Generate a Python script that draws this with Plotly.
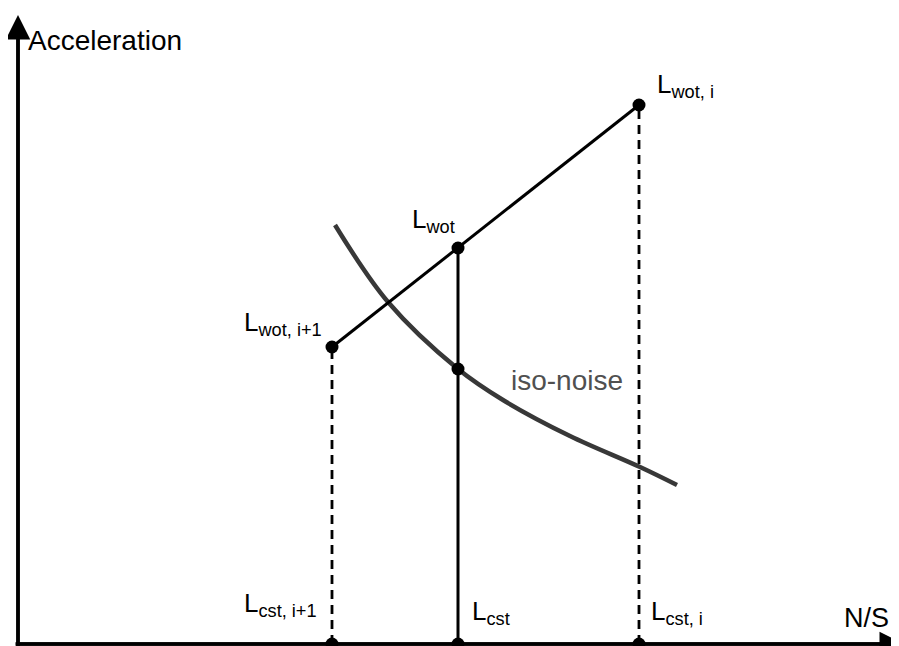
import plotly.graph_objects as go

# operating points (arbitrary units, origin at the axis corner)
ns_points = [314, 440, 621]          # N/S of L_cst,i+1 / L_cst / L_cst,i
acc_wot = [297, 396, 539]            # acceleration on the WOT line
acc_cst = 275                        # L_cst acceleration (on iso-noise curve)

# iso-noise curve
iso_ns = [317, 370, 440, 485, 552, 622, 659]
iso_acc = [419, 342, 275, 244, 208, 177, 159]

wot_labels = ['L<sub>wot, i+1</sub>', 'L<sub>wot</sub>', 'L<sub>wot, i</sub>']
cst_labels = ['L<sub>cst, i+1</sub>', 'L<sub>cst</sub>', 'L<sub>cst, i</sub>']

FONT = 'Liberation Sans, Arial, sans-serif'

fig = go.Figure()

# dashed drops from the outer WOT points
for i in (0, 2):
    fig.add_trace(go.Scatter(
        x=[ns_points[i], ns_points[i]], y=[0, acc_wot[i]],
        mode='lines', line=dict(color='black', width=2.8, dash='9px,6px'),
        hoverinfo='skip'
    ))

# solid drop at the chosen point
fig.add_trace(go.Scatter(
    x=[ns_points[1], ns_points[1]], y=[0, acc_wot[1]],
    mode='lines', line=dict(color='black', width=3), hoverinfo='skip'
))

# iso-noise curve
fig.add_trace(go.Scatter(
    x=iso_ns, y=iso_acc, mode='lines',
    line=dict(color='#383838', width=4.5, shape='spline', smoothing=1.0),
    hoverinfo='skip'
))

# WOT line
fig.add_trace(go.Scatter(
    x=[ns_points[0], ns_points[2]], y=[acc_wot[0], acc_wot[2]],
    mode='lines', line=dict(color='black', width=3), hoverinfo='skip'
))

# dots
fig.add_trace(go.Scatter(
    x=ns_points + [ns_points[1]] + ns_points,
    y=acc_wot + [acc_cst] + [0, 0, 0],
    mode='markers', marker=dict(color='black', size=13), hoverinfo='skip',
    cliponaxis=False
))

annotations = []

# axes arrow heads
annotations.append(dict(x=0, y=629, ax=0, ay=-10, xref='x', yref='y', axref='x', ayref='y',
                        showarrow=True, arrowhead=2, arrowwidth=3.5, arrowsize=1.4,
                        arrowcolor='black', text=''))
annotations.append(dict(x=886, y=0, ax=-4, ay=0, xref='x', yref='y', axref='x', ayref='y',
                        showarrow=True, arrowhead=2, arrowwidth=3.5, arrowsize=1.4,
                        arrowcolor='black', text=''))

annotations.append(dict(x=0, y=604, xref='x', yref='y', text='Acceleration', showarrow=False,
                        xanchor='left', yanchor='middle', xshift=8,
                        font=dict(family=FONT, size=28, color='black')))
annotations.append(dict(x=881, y=26, xref='x', yref='y', text='N/S', showarrow=False,
                        xanchor='right', yanchor='middle', xshift=-8,
                        font=dict(family=FONT, size=27, color='black')))

# WOT point labels
wot_shift = [(-90, 24), (-48, 28), (16, 20)]
for i, lab in enumerate(wot_labels):
    annotations.append(dict(x=ns_points[i], y=acc_wot[i], xref='x', yref='y', text=lab,
                            showarrow=False, xanchor='left', yanchor='middle',
                            xshift=wot_shift[i][0], yshift=wot_shift[i][1],
                            font=dict(family=FONT, size=26, color='black')))

# constant-speed labels along the bottom
cst_shift = [(-90, 40), (12, 32), (10, 32)]
for i, lab in enumerate(cst_labels):
    annotations.append(dict(x=ns_points[i], y=0, xref='x', yref='y', text=lab,
                            showarrow=False, xanchor='left', yanchor='middle',
                            xshift=cst_shift[i][0], yshift=cst_shift[i][1],
                            font=dict(family=FONT, size=26, color='black')))

annotations.append(dict(x=iso_ns[3], y=iso_acc[3], xref='x', yref='y', text='iso-noise',
                        showarrow=False, xanchor='left', yanchor='middle',
                        xshift=6, yshift=20,
                        font=dict(family=FONT, size=28, color='#505050')))

# the page adds an 8px body margin, so the ranges are shifted by that amount
fig.update_layout(
    width=899,
    height=646,
    margin=dict(l=0, r=0, t=0, b=0),
    plot_bgcolor='white',
    paper_bgcolor='white',
    showlegend=False,
    annotations=annotations,
    xaxis=dict(range=[-10, 889], visible=False, fixedrange=True),
    yaxis=dict(range=[-10, 636], visible=False, fixedrange=True),
)

# axis lines
fig.add_shape(type='line', x0=0, x1=0, y0=-10, y1=615, xref='x', yref='y',
              line=dict(color='black', width=3.5))
fig.add_shape(type='line', x0=-2, x1=875, y0=0, y1=0, xref='x', yref='y',
              line=dict(color='black', width=3.5))

fig.write_html("out.html")
